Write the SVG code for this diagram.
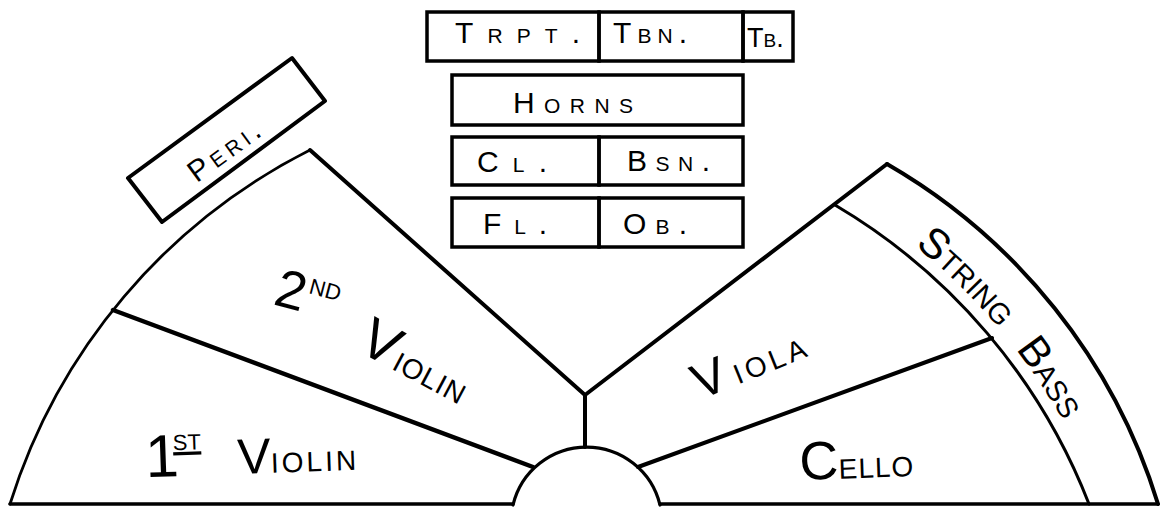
<svg xmlns="http://www.w3.org/2000/svg" width="1165" height="507" viewBox="0 0 1165 507">
<style>
.ln{fill:none;stroke:#000;stroke-linecap:round;stroke-linejoin:round}
.box{fill:none;stroke:#000;stroke-width:3.5}
.t{font-family:"Liberation Sans",Arial,sans-serif;font-variant:small-caps;fill:#000;font-size:30px}
</style>
<defs>
<path id="bassArc" d="M817.3,181.1 A612,612 0 0 1 1112.1,532.4"/>
</defs>
<rect width="1165" height="507" fill="#fff"/>

<g id="trpt"><rect class="box" x="427" y="12" width="172" height="49"/><text class="t" x="455" y="43" textLength="125">Trpt.</text></g>
<g id="tbn"><rect class="box" x="599" y="12" width="144" height="49"/><text class="t" x="613" y="43" textLength="74">Tbn.</text></g>
<g id="tb"><rect class="box" x="743" y="12" width="50" height="49"/><text class="t" x="747" y="47" style="font-size:27px">Tb.</text></g>
<g id="horns"><rect class="box" x="452" y="75" width="291" height="50"/><text class="t" x="513" y="113" textLength="120">Horns</text></g>
<g id="cl"><rect class="box" x="452" y="137" width="147" height="48"/><text class="t" x="477" y="172" textLength="70">Cl.</text></g>
<g id="bsn"><rect class="box" x="599" y="137" width="144" height="48"/><text class="t" x="627" y="171" textLength="83">Bsn.</text></g>
<g id="fl"><rect class="box" x="452" y="198" width="147" height="49"/><text class="t" x="483" y="234" textLength="64">Fl.</text></g>
<g id="ob"><rect class="box" x="599" y="198" width="144" height="49"/><text class="t" x="623" y="234" textLength="64">Ob.</text></g>

<g id="peri">
<polygon class="ln" style="stroke-width:4" points="128,178 292,58 325,101 162,222"/>
<text class="t" transform="translate(227,140) rotate(-36.2)" x="-50" y="17" style="font-size:30px" textLength="82">Peri.</text>
</g>

<g id="stage">
<path class="ln" style="stroke-width:2.8" d="M10,504 A595,595 0 0 1 310,150"/>
<path class="ln" style="stroke-width:4" d="M887,164 A595,595 0 0 1 1158,504"/>
<path class="ln" style="stroke-width:3" d="M835,205 A600,600 0 0 1 1089,504"/>
<path class="ln" style="stroke-width:3.2" d="M513,505 A75.6,75.6 0 0 1 660,505"/>
<line class="ln" style="stroke-width:3.5" x1="10" y1="504" x2="513" y2="504"/>
<line class="ln" style="stroke-width:3.5" x1="660" y1="504" x2="1158" y2="504"/>
<polyline class="ln" style="stroke-width:4" points="310,150 585,395 887,164"/>
<line class="ln" style="stroke-width:4" x1="585" y1="395" x2="585" y2="447"/>
<line class="ln" style="stroke-width:4.5" x1="113" y1="310" x2="533" y2="467"/>
<line class="ln" style="stroke-width:4" x1="638" y1="467" x2="992" y2="338"/>
</g>

<g id="second-violin">
<text class="t" transform="translate(272,304) rotate(15)"><tspan style="font-size:54px">2</tspan><tspan x="32" dy="-20" style="font-size:32px">nd</tspan></text>
<text class="t" transform="translate(356,350) rotate(28)"><tspan style="font-size:56px">V</tspan><tspan dx="2" style="font-size:40px;letter-spacing:1px">iolin</tspan></text>
</g>

<g id="first-violin">
<text class="t" transform="translate(150,477) rotate(-2)"><tspan x="-4" style="font-size:60px">1</tspan><tspan x="24" dy="-26" style="font-size:32px;text-decoration:underline">st</tspan><tspan x="88" dy="26" style="font-size:50px">V</tspan><tspan style="font-size:40px;letter-spacing:3px">iolin</tspan></text>
</g>

<g id="viola">
<text class="t" transform="translate(700,400) rotate(-22)"><tspan style="font-size:50px">V</tspan><tspan dx="8" style="font-size:40px;letter-spacing:4px">iola</tspan></text>
</g>

<g id="cello">
<text class="t" transform="translate(800,480) rotate(-2)"><tspan style="font-size:54px">C</tspan><tspan style="font-size:40px;letter-spacing:1px">ello</tspan></text>
</g>

<g id="string-bass">
<text class="t" style="font-size:42px;word-spacing:15px"><textPath href="#bassArc" startOffset="117">String Bass</textPath></text>
</g>
</svg>
